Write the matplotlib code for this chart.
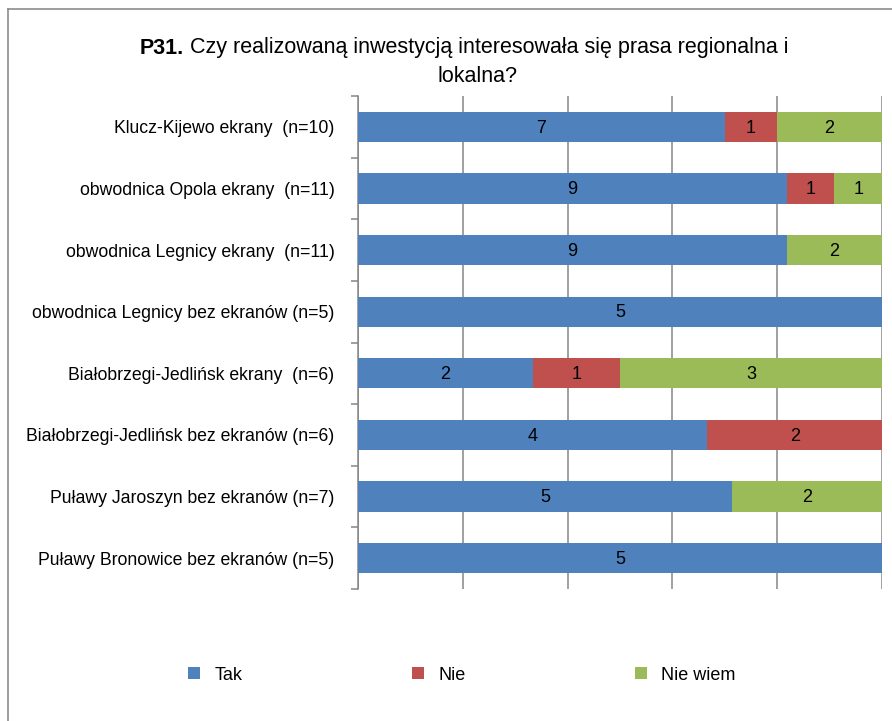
import numpy as np
import matplotlib.pyplot as plt
from matplotlib.lines import Line2D

plt.rcParams['font.family'] = ['Liberation Sans', 'DejaVu Sans']

# categories top -> bottom
labels = ["Klucz-Kijewo ekrany  (n=10)",
          "obwodnica Opola ekrany  (n=11)",
          "obwodnica Legnicy ekrany  (n=11)",
          "obwodnica Legnicy bez ekranów (n=5)",
          "Białobrzegi-Jedlińsk ekrany  (n=6)",
          "Białobrzegi-Jedlińsk bez ekranów (n=6)",
          "Puławy Jaroszyn bez ekranów (n=7)",
          "Puławy Bronowice bez ekranów (n=5)"]
tak = [7, 9, 9, 5, 2, 4, 5, 5]
nie = [1, 1, 0, 0, 1, 2, 0, 0]
nie_wiem = [2, 1, 2, 0, 3, 0, 2, 0]
series = ["Tak", "Nie", "Nie wiem"]
colors = ["#4F81BD", "#C0504D", "#9BBB59"]

counts = np.array([tak, nie, nie_wiem], dtype=float)
totals = counts.sum(axis=0)
shares = counts / totals

fig = plt.figure(figsize=(8.92, 7.21), dpi=100)
ax = fig.add_axes([358/892, 1-589/721, 524/892, 493/721])

y = np.arange(len(labels))
left = np.zeros(len(labels))
for i in range(3):
    bars = ax.barh(y, shares[i], left=left, height=0.49, color=colors[i], label=series[i], zorder=3)
    for j, b in enumerate(bars):
        if counts[i, j] > 0:
            ax.text(left[j] + shares[i, j]/2, y[j] + 0.02, str(int(counts[i, j])),
                    ha='center', va='center', fontsize=13, color='black', zorder=4)
    left = left + shares[i]

ax.set_xlim(0, 1)
ax.set_ylim(len(labels) - 0.5, -0.5)
ax.set_xticks(np.arange(0, 1.01, 0.2))
ax.set_xticklabels([])
ax.tick_params(axis='x', length=0)
ax.grid(axis='x', color='#868686', lw=1.1, zorder=0)
ax.set_axisbelow(True)

ax.set_yticks(y)
ax.set_yticklabels(labels, fontsize=12.7)
ax.set_yticks(np.arange(-0.5, len(labels)), minor=True)
ax.tick_params(axis='y', which='major', length=0, pad=17)
ax.tick_params(axis='y', which='minor', length=5, width=1.1, color='#868686')

for s in ['top', 'right', 'bottom']:
    ax.spines[s].set_visible(False)
ax.spines['left'].set_color('#868686')
ax.spines['left'].set_linewidth(1.1)

# title
t1 = fig.text(140/892, 1-48/721, "P31.", fontsize=15.5, fontweight='bold', ha='left', va='center')
ax.annotate(" Czy realizowaną inwestycją interesowała się prasa regionalna i",
            xy=(1, 0.5), xycoords=t1, ha='left', va='center', fontsize=15.5)
fig.text(477/892, 1-76/721, "lokalna?", fontsize=15.5, ha='center', va='center')

# legend
fig.legend(loc='center', bbox_to_anchor=(462/892, 1-675/721), ncol=3, frameon=False,
           fontsize=13, handlelength=0.65, handleheight=0.65, handletextpad=0.8,
           columnspacing=9.4)

# outer chart frame (top and left edges visible)
fig.add_artist(Line2D([8/892, 8/892], [0, 1-9/721], transform=fig.transFigure, color='#8c8c8c', lw=1.2))
fig.add_artist(Line2D([8/892, 1], [1-9/721, 1-9/721], transform=fig.transFigure, color='#8c8c8c', lw=1.2))

fig.savefig("out.png", dpi=100)
